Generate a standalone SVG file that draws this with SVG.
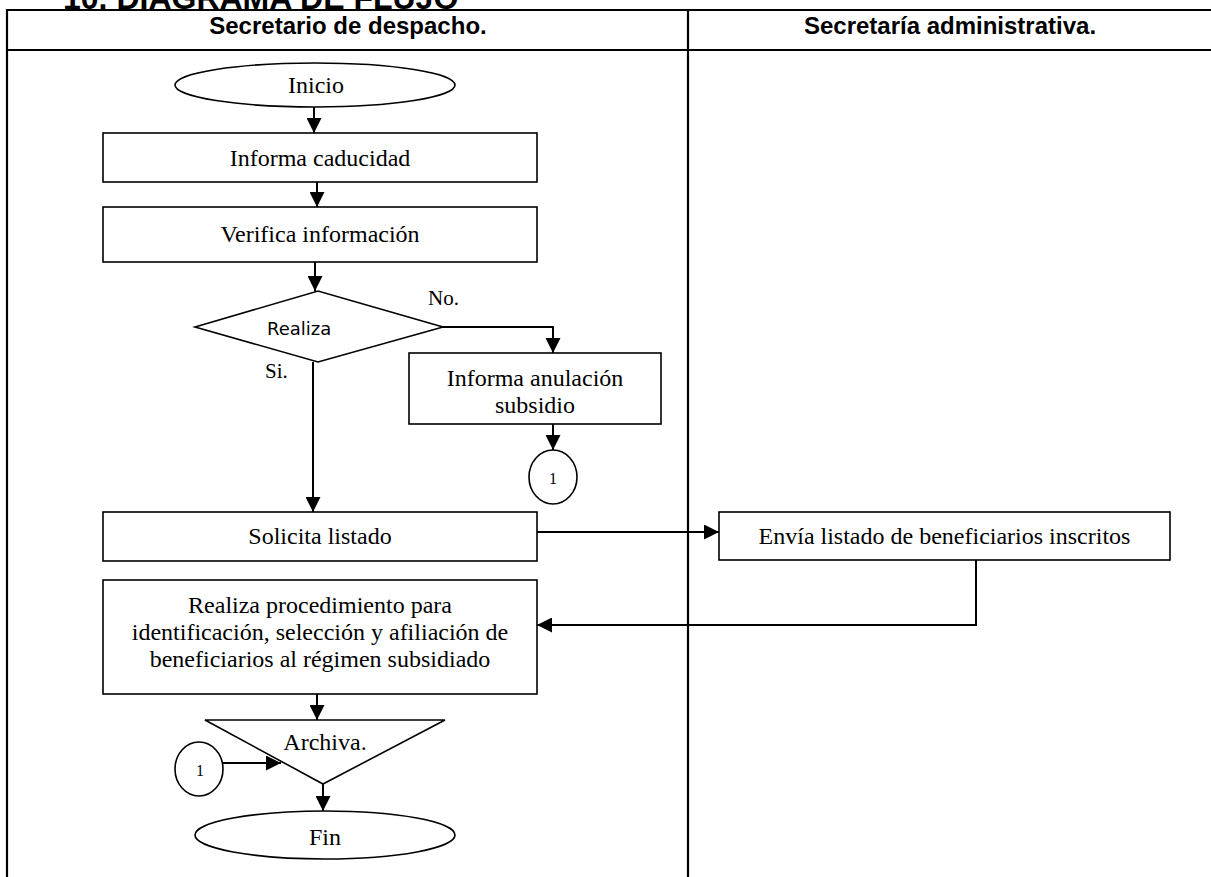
<svg xmlns="http://www.w3.org/2000/svg" width="1211" height="877" viewBox="0 0 1211 877">
  <style>
    .grid { stroke: #000; stroke-width: 2.2; fill: none; }
    .shape { fill: #fff; stroke: #000; stroke-width: 1.6; }
    .wire { fill: none; stroke: #000; stroke-width: 2; }
    .t { font-family: "Liberation Serif", "Times New Roman", serif; font-size: 24px; fill: #000; text-anchor: middle; }
    .ts { font-family: "Liberation Serif", "Times New Roman", serif; font-size: 21px; fill: #000; }
    .tc { font-family: "Liberation Serif", "Times New Roman", serif; font-size: 16px; fill: #000; text-anchor: middle; }
    .hd { font-family: "Liberation Sans", Arial, sans-serif; font-weight: bold; font-size: 24px; fill: #000; text-anchor: middle; }
  </style>
  <defs>
    <marker id="arrow" viewBox="0 0 10 10" refX="10" refY="5" markerWidth="15" markerHeight="15" markerUnits="userSpaceOnUse" orient="auto">
      <path d="M0,0 L10,5 L0,10 z" fill="#000"/>
    </marker>
  </defs>
  <rect width="1211" height="877" fill="#fff"/>

  <!-- section heading, partly above the page edge -->
  <text x="63" y="8.5" font-family="Liberation Sans, Arial, sans-serif" font-weight="bold" font-size="32">10. DIAGRAMA DE FLUJO</text>

  <!-- swimlane table -->
  <g id="lanes">
    <line class="grid" x1="7" y1="10" x2="1211" y2="10"/>
    <line class="grid" x1="7" y1="50" x2="1211" y2="50"/>
    <line class="grid" x1="7" y1="9" x2="7" y2="877"/>
    <line class="grid" x1="688" y1="9" x2="688" y2="877"/>
    <text class="hd" x="348" y="34">Secretario de despacho.</text>
    <text class="hd" x="950" y="34">Secretaría administrativa.</text>
  </g>

  <!-- connectors -->
  <g id="connectors">
    <line class="wire" x1="314" y1="107" x2="314" y2="133" marker-end="url(#arrow)"/>
    <line class="wire" x1="317" y1="182" x2="317" y2="207" marker-end="url(#arrow)"/>
    <line class="wire" x1="315" y1="262" x2="315" y2="291" marker-end="url(#arrow)"/>
    <polyline class="wire" points="443,327 553,327 553,353" marker-end="url(#arrow)"/>
    <line class="wire" x1="313" y1="362" x2="313" y2="512" marker-end="url(#arrow)"/>
    <line class="wire" x1="553" y1="424" x2="553" y2="450" marker-end="url(#arrow)"/>
    <line class="wire" x1="537" y1="532" x2="719" y2="532" marker-end="url(#arrow)"/>
    <polyline class="wire" points="976,560 976,625 537,625" marker-end="url(#arrow)"/>
    <line class="wire" x1="317" y1="694" x2="317" y2="720" marker-end="url(#arrow)"/>
    <line class="wire" x1="223" y1="763" x2="281" y2="763" marker-end="url(#arrow)"/>
    <line class="wire" x1="323" y1="784" x2="323" y2="811" marker-end="url(#arrow)"/>
    <text class="ts" x="428" y="305">No.</text>
    <text class="ts" x="265" y="378">Si.</text>
  </g>

  <g id="inicio">
    <ellipse class="shape" cx="315" cy="85" rx="140" ry="22"/>
    <text class="t" x="316" y="93" font-size="21">Inicio</text>
  </g>

  <g id="informa-caducidad">
    <rect class="shape" x="103" y="133" width="434" height="49"/>
    <text class="t" x="320" y="166">Informa caducidad</text>
  </g>

  <g id="verifica-informacion">
    <rect class="shape" x="103" y="207" width="434" height="55"/>
    <text class="t" x="320" y="242">Verifica información</text>
  </g>

  <g id="realiza-decision">
    <polygon class="shape" points="195,327 318,291 443,327 318,362"/>
    <text x="267" y="335" font-family="DejaVu Sans, Verdana, sans-serif" font-size="18" fill="#000">Realiza</text>
  </g>

  <g id="informa-anulacion">
    <rect class="shape" x="409" y="353" width="252" height="71"/>
    <text class="t" x="535" y="386">Informa anulación</text>
    <text class="t" x="535" y="413">subsidio</text>
  </g>

  <g id="conector-1-salida">
    <ellipse class="shape" cx="553" cy="477" rx="24" ry="27"/>
    <text class="tc" x="553" y="484">1</text>
  </g>

  <g id="solicita-listado">
    <rect class="shape" x="103" y="512" width="434" height="49"/>
    <text class="t" x="320" y="544">Solicita listado</text>
  </g>

  <g id="envia-listado">
    <rect class="shape" x="719" y="512" width="451" height="48"/>
    <text class="t" x="944.5" y="544">Envía listado de beneficiarios inscritos</text>
  </g>

  <g id="realiza-procedimiento">
    <rect class="shape" x="103" y="580" width="434" height="114"/>
    <text class="t" x="320" y="613">Realiza procedimiento para</text>
    <text class="t" x="320" y="640">identificación, selección y afiliación de</text>
    <text class="t" x="320" y="667">beneficiarios al régimen subsidiado</text>
  </g>

  <g id="archiva">
    <polygon class="shape" points="205,720 445,720 323,784"/>
    <text class="t" x="325" y="750" font-size="21">Archiva.</text>
  </g>

  <g id="conector-1-entrada">
    <ellipse class="shape" cx="199" cy="769" rx="24" ry="27"/>
    <text class="tc" x="200" y="776">1</text>
  </g>

  <g id="fin">
    <ellipse class="shape" cx="325" cy="835" rx="130" ry="24"/>
    <text class="t" x="325" y="845" font-size="21">Fin</text>
  </g>
</svg>
